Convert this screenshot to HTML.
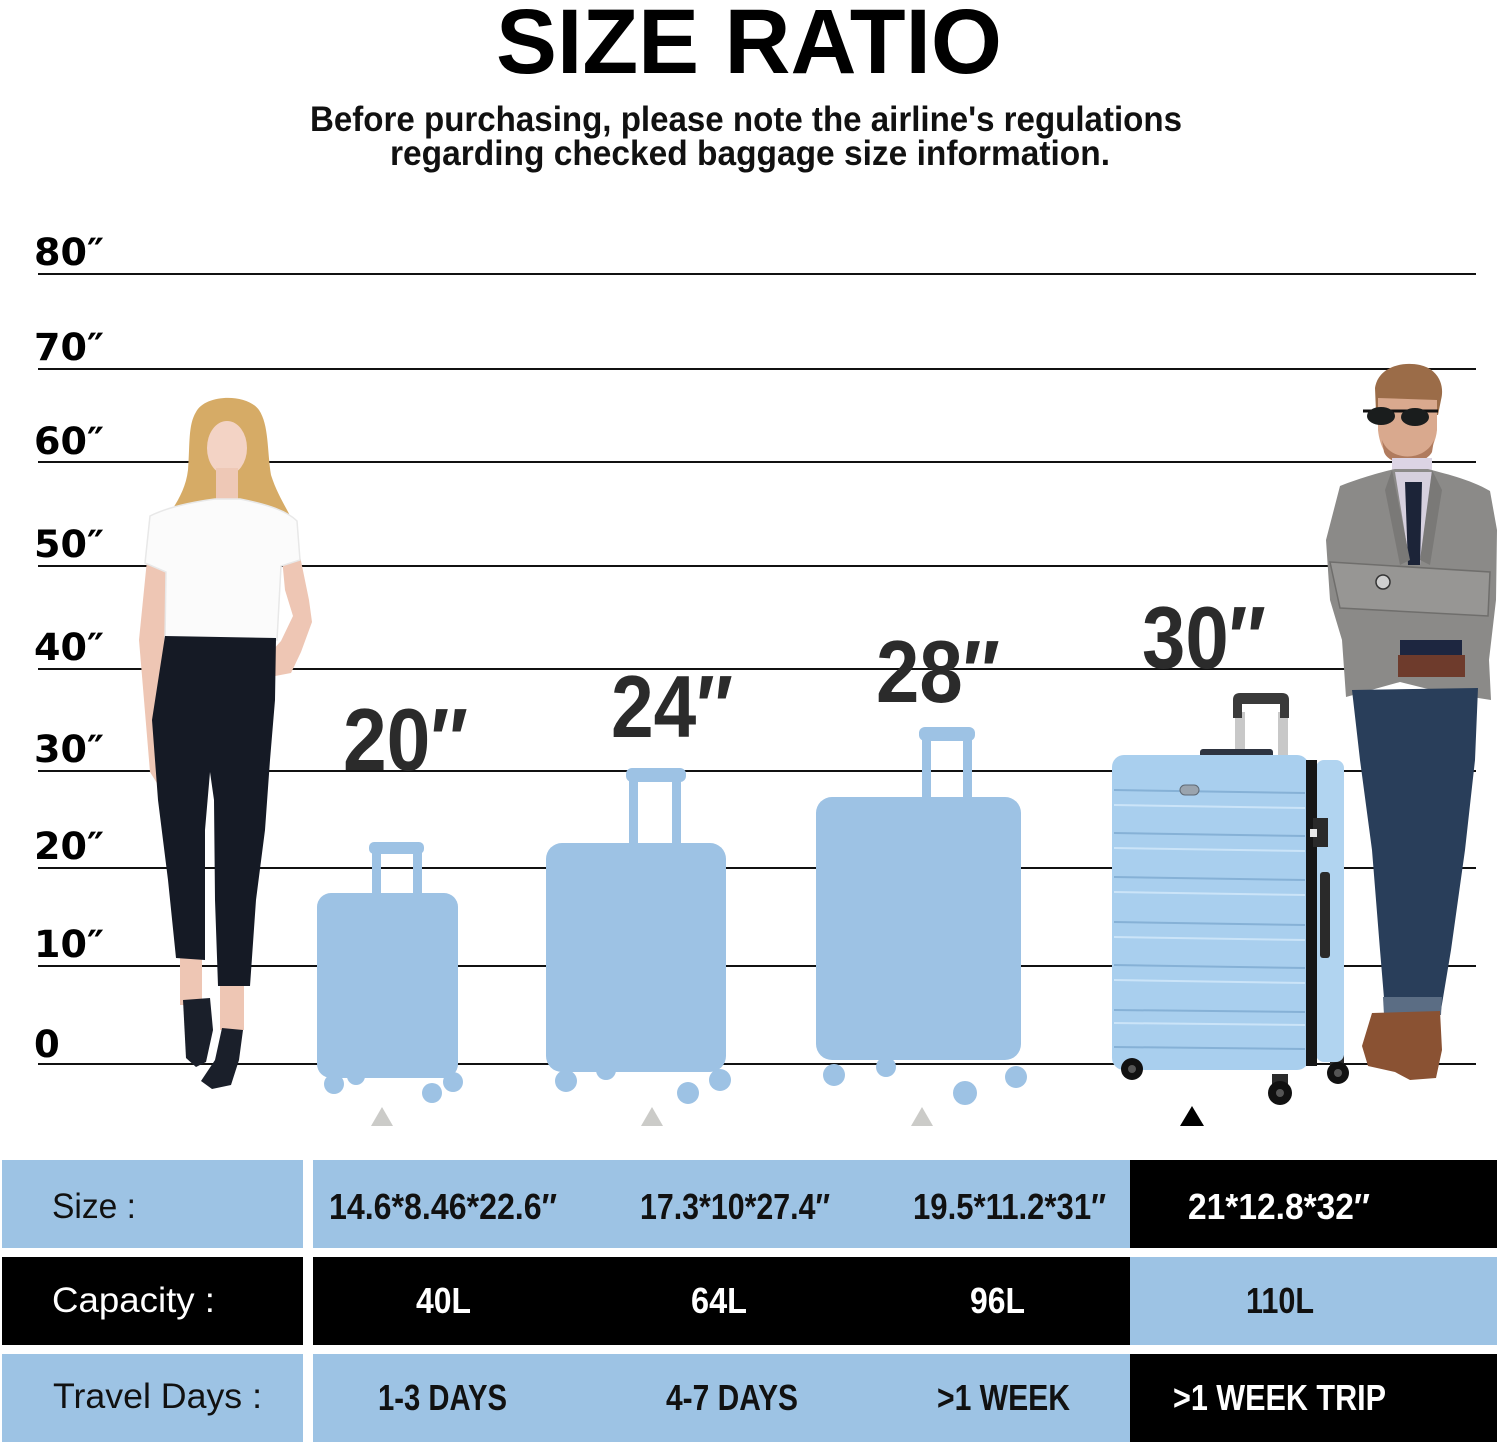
<!DOCTYPE html>
<html><head><meta charset="utf-8"><style>
html,body{margin:0;padding:0;background:#fff;}
svg{display:block;}
</style></head><body>
<svg width="1500" height="1444" viewBox="0 0 1500 1444" xmlns="http://www.w3.org/2000/svg" font-family="Liberation Sans, Arial, sans-serif">
<rect width="1500" height="1444" fill="#ffffff"/>

<!-- Title -->
<text x="496" y="73" font-size="92" font-weight="bold" fill="#000" textLength="506" lengthAdjust="spacingAndGlyphs">SIZE RATIO</text>
<text x="310" y="131" font-size="35" font-weight="bold" fill="#111" textLength="872" lengthAdjust="spacingAndGlyphs">Before purchasing, please note the airline's regulations</text>
<text x="390" y="165" font-size="35" font-weight="bold" fill="#111" textLength="720" lengthAdjust="spacingAndGlyphs">regarding checked baggage size information.</text>

<!-- Grid lines -->
<g stroke="#111" stroke-width="2">
<line x1="38" y1="274" x2="1476" y2="274"/>
<line x1="38" y1="369" x2="1476" y2="369"/>
<line x1="38" y1="462" x2="1476" y2="462"/>
<line x1="38" y1="566" x2="1476" y2="566"/>
<line x1="38" y1="669" x2="1476" y2="669"/>
<line x1="38" y1="771" x2="1476" y2="771"/>
<line x1="38" y1="868" x2="1476" y2="868"/>
<line x1="38" y1="966" x2="1476" y2="966"/>
<line x1="38" y1="1064" x2="1476" y2="1064"/>
</g>

<!-- Axis labels -->
<g font-family="DejaVu Sans, Liberation Sans, sans-serif" font-weight="bold" font-size="37" fill="#000">
<text x="34" y="265" textLength="70" lengthAdjust="spacingAndGlyphs">80″</text>
<text x="34" y="360" textLength="70" lengthAdjust="spacingAndGlyphs">70″</text>
<text x="34" y="454" textLength="70" lengthAdjust="spacingAndGlyphs">60″</text>
<text x="34" y="557" textLength="70" lengthAdjust="spacingAndGlyphs">50″</text>
<text x="34" y="660" textLength="70" lengthAdjust="spacingAndGlyphs">40″</text>
<text x="34" y="762" textLength="70" lengthAdjust="spacingAndGlyphs">30″</text>
<text x="34" y="859" textLength="70" lengthAdjust="spacingAndGlyphs">20″</text>
<text x="34" y="957" textLength="70" lengthAdjust="spacingAndGlyphs">10″</text>
<text x="34" y="1057">0</text>
</g>

<!-- Woman -->
<g>
<path d="M196,412 C205,394 247,393 259,410 C269,425 267,450 271,475 C279,500 292,515 296,530 L286,548 L268,522 L262,560 L190,560 L186,522 L168,548 L158,532 C171,510 185,495 188,470 C190,445 188,425 196,412 Z" fill="#d6ab66"/>
<ellipse cx="227" cy="448" rx="20" ry="27" fill="#f3d3c5"/>
<rect x="216" y="468" width="22" height="36" fill="#eec8b6"/>
<path d="M147,560 L167,566 L171,640 L169,700 L176,760 L182,790 L165,796 L150,772 L144,700 L139,640 Z" fill="#eec6b4"/>
<path d="M282,558 L300,556 L309,600 L312,622 L301,652 L291,673 L270,677 L262,662 L281,641 L293,616 L285,590 Z" fill="#eec6b4"/>
<path d="M150,516 C170,506 200,501 215,499 L240,499 C260,503 285,509 297,521 L300,560 L281,566 L277,640 L165,640 L166,572 L145,563 Z" fill="#fbfbfb" stroke="#e8e8e8" stroke-width="1.5"/>
<rect x="180" y="955" width="22" height="50" fill="#eec6b4"/>
<rect x="220" y="980" width="24" height="50" fill="#eec6b4"/>
<path d="M165,636 L276,638 L275,700 L270,760 L265,830 L256,900 L250,986 L218,986 L215,900 L214,800 L210,772 L205,830 L205,900 L205,960 L176,958 L168,880 L158,800 L152,720 Z" fill="#151a25"/>
<path d="M183,1000 L210,998 L213,1030 L206,1062 L196,1067 L186,1058 Z" fill="#1a1f2a"/>
<path d="M222,1028 L243,1030 L239,1060 L231,1085 L212,1089 L201,1081 L215,1060 Z" fill="#1a1f2a"/>
</g>

<!-- Man -->
<g>
<path d="M1375,388 C1378,368 1400,361 1420,365 C1438,369 1445,385 1441,400 L1438,415 L1376,412 Z" fill="#9b6c48"/>
<path d="M1378,398 L1437,400 L1437,430 C1435,450 1421,466 1406,466 C1390,464 1380,450 1378,430 Z" fill="#d9a98e"/>
<path d="M1382,440 C1390,462 1425,462 1434,440 L1432,452 C1425,466 1390,468 1384,452 Z" fill="#b07b5e"/>
<line x1="1363" y1="411" x2="1438" y2="411" stroke="#111" stroke-width="3"/>
<ellipse cx="1381" cy="416" rx="14" ry="9" fill="#1a1d1d"/>
<ellipse cx="1415" cy="417" rx="14" ry="9" fill="#1a1d1d"/>
<rect x="1392" y="458" width="40" height="40" fill="#dcd4e4"/>
<path d="M1340,486 C1360,478 1385,471 1395,469 L1428,469 C1442,473 1470,479 1490,491 L1497,530 L1496,600 L1489,660 L1491,700 L1440,692 L1400,682 L1346,697 L1342,640 L1330,600 L1326,540 Z" fill="#8b8a88"/>
<path d="M1395,472 L1432,472 L1420,565 L1410,565 Z" fill="#d6d0de"/>
<path d="M1405,482 L1422,482 L1420,565 L1408,565 Z" fill="#1c2438"/>
<path d="M1392,470 L1410,560 L1400,565 L1385,490 Z" fill="#7a7977"/>
<path d="M1432,470 L1420,560 L1430,565 L1442,490 Z" fill="#7a7977"/>
<path d="M1330,562 L1490,572 L1488,616 L1340,608 Z" fill="#979694" stroke="#6f6e6c" stroke-width="1.5"/>
<circle cx="1383" cy="582" r="7" fill="#cfcfcf" stroke="#333" stroke-width="1.5"/>
<rect x="1400" y="640" width="62" height="16" fill="#1d2640"/>
<rect x="1398" y="655" width="67" height="22" fill="#6e3b2c"/>
<path d="M1352,690 L1478,688 L1475,760 L1465,850 L1451,950 L1441,1010 L1385,1010 L1380,950 L1372,850 L1360,760 Z" fill="#293e5a"/>
<path d="M1383,997 L1442,997 L1441,1015 L1384,1015 Z" fill="#5b6d84"/>
<path d="M1372,1013 L1440,1011 L1442,1050 L1436,1078 L1410,1080 L1395,1072 L1368,1066 L1362,1046 Z" fill="#8a5233"/>
</g>

<!-- Silhouette suitcases -->
<g fill="#9dc2e4">
<!-- 20 -->
<rect x="317" y="893" width="141" height="185" rx="14"/>
<rect x="372" y="846" width="9" height="52"/>
<rect x="413" y="846" width="9" height="52"/>
<rect x="369" y="842" width="55" height="12" rx="5"/>
<circle cx="334" cy="1084" r="10"/>
<circle cx="356" cy="1076" r="9"/>
<circle cx="432" cy="1093" r="10"/>
<circle cx="453" cy="1082" r="10"/>
<!-- 24 -->
<rect x="546" y="843" width="180" height="229" rx="16"/>
<rect x="629" y="772" width="9" height="74"/>
<rect x="672" y="772" width="9" height="74"/>
<rect x="626" y="768" width="60" height="14" rx="6"/>
<circle cx="566" cy="1081" r="11"/>
<circle cx="606" cy="1070" r="10"/>
<circle cx="688" cy="1093" r="11"/>
<circle cx="720" cy="1080" r="11"/>
<!-- 28 -->
<rect x="816" y="797" width="205" height="263" rx="16"/>
<rect x="922" y="731" width="9" height="70"/>
<rect x="963" y="731" width="9" height="70"/>
<rect x="919" y="727" width="56" height="14" rx="6"/>
<circle cx="834" cy="1075" r="11"/>
<circle cx="886" cy="1067" r="10"/>
<circle cx="965" cy="1093" r="12"/>
<circle cx="1016" cy="1077" r="11"/>
</g>

<!-- Real suitcase 30 -->
<g>
<rect x="1235" y="712" width="10" height="46" fill="#c8c8c8"/>
<rect x="1278" y="712" width="10" height="46" fill="#c8c8c8"/>
<path d="M1233,718 L1233,700 Q1233,693 1240,693 L1282,693 Q1289,693 1289,700 L1289,718 L1280,718 L1280,704 L1242,704 L1242,718 Z" fill="#3a3a3a"/>
<rect x="1200" y="749" width="73" height="9" rx="3" fill="#2e3440"/>
<rect x="1123" y="1058" width="16" height="14" fill="#2b2b2b"/>
<rect x="1272" y="1074" width="16" height="16" fill="#2b2b2b"/>
<rect x="1330" y="1055" width="14" height="14" fill="#2b2b2b"/>
<rect x="1316" y="760" width="28" height="302" rx="8" fill="#b1d4f0"/>
<rect x="1112" y="755" width="197" height="315" rx="12" fill="#a9cfee"/>
<rect x="1306" y="760" width="11" height="306" fill="#161616"/>
<g stroke-width="2">
<line x1="1114" y1="790" x2="1305" y2="793" stroke="#86b1d6"/><line x1="1114" y1="805" x2="1305" y2="808" stroke="#cbe4f8"/>
<line x1="1114" y1="833" x2="1305" y2="836" stroke="#86b1d6"/><line x1="1114" y1="848" x2="1305" y2="851" stroke="#cbe4f8"/>
<line x1="1114" y1="877" x2="1305" y2="880" stroke="#86b1d6"/><line x1="1114" y1="892" x2="1305" y2="895" stroke="#cbe4f8"/>
<line x1="1114" y1="922" x2="1305" y2="925" stroke="#86b1d6"/><line x1="1114" y1="937" x2="1305" y2="940" stroke="#cbe4f8"/>
<line x1="1114" y1="965" x2="1305" y2="968" stroke="#86b1d6"/><line x1="1114" y1="980" x2="1305" y2="983" stroke="#cbe4f8"/>
<line x1="1114" y1="1010" x2="1305" y2="1012" stroke="#86b1d6"/><line x1="1114" y1="1023" x2="1305" y2="1025" stroke="#cbe4f8"/>
<line x1="1114" y1="1047" x2="1305" y2="1049" stroke="#86b1d6"/>
</g>
<rect x="1180" y="785" width="19" height="10" rx="5" fill="#9aa4ae" stroke="#5f6a75" stroke-width="1"/>
<rect x="1313" y="818" width="15" height="29" fill="#2a2a2a"/>
<rect x="1310" y="829" width="7" height="8" fill="#e8e8e8"/>
<rect x="1320" y="872" width="10" height="86" rx="3" fill="#2a2a2a"/>
<circle cx="1132" cy="1069" r="11" fill="#111"/><circle cx="1132" cy="1069" r="4" fill="#555"/>
<circle cx="1280" cy="1093" r="12" fill="#111"/><circle cx="1280" cy="1093" r="4" fill="#555"/>
<circle cx="1338" cy="1073" r="11" fill="#111"/><circle cx="1338" cy="1073" r="4" fill="#555"/>
</g>

<!-- Size numbers -->
<g font-weight="bold" font-size="88" fill="#2b2b2b">
<text x="343" y="770" textLength="125" lengthAdjust="spacingAndGlyphs">20″</text>
<text x="611" y="737" textLength="122" lengthAdjust="spacingAndGlyphs">24″</text>
<text x="876" y="702" textLength="124" lengthAdjust="spacingAndGlyphs">28″</text>
<text x="1142" y="668" textLength="124" lengthAdjust="spacingAndGlyphs">30″</text>
</g>

<!-- Triangles -->
<polygon points="371,1126 393,1126 382,1107" fill="#cbcbc8"/>
<polygon points="641,1126 663,1126 652,1107" fill="#cbcbc8"/>
<polygon points="911,1126 933,1126 922,1107" fill="#cbcbc8"/>
<polygon points="1180,1126 1204,1126 1192,1106" fill="#000"/>

<!-- Table -->
<rect x="2" y="1160" width="301" height="88" fill="#9dc3e4"/>
<rect x="313" y="1160" width="817" height="88" fill="#9dc3e4"/>
<rect x="1130" y="1160" width="367" height="88" fill="#000"/>
<rect x="2" y="1257" width="301" height="88" fill="#000"/>
<rect x="313" y="1257" width="817" height="88" fill="#000"/>
<rect x="1130" y="1257" width="367" height="88" fill="#9dc3e4"/>
<rect x="2" y="1354" width="301" height="88" fill="#9dc3e4"/>
<rect x="313" y="1354" width="817" height="88" fill="#9dc3e4"/>
<rect x="1130" y="1354" width="367" height="88" fill="#000"/>

<g font-size="35">
<text x="52" y="1218" fill="#111" textLength="84" lengthAdjust="spacingAndGlyphs">Size :</text>
<text x="52" y="1312" fill="#fff" textLength="163" lengthAdjust="spacingAndGlyphs">Capacity :</text>
<text x="53" y="1408" fill="#111" textLength="209" lengthAdjust="spacingAndGlyphs">Travel Days :</text>
</g>
<g font-size="36" font-weight="bold">
<text x="329" y="1219" fill="#111" textLength="228" lengthAdjust="spacingAndGlyphs">14.6*8.46*22.6″</text>
<text x="640" y="1219" fill="#111" textLength="190" lengthAdjust="spacingAndGlyphs">17.3*10*27.4″</text>
<text x="913" y="1219" fill="#111" textLength="193" lengthAdjust="spacingAndGlyphs">19.5*11.2*31″</text>
<text x="1188" y="1219" fill="#fff" textLength="182" lengthAdjust="spacingAndGlyphs">21*12.8*32″</text>
<text x="416" y="1313" fill="#fff" textLength="55" lengthAdjust="spacingAndGlyphs">40L</text>
<text x="691" y="1313" fill="#fff" textLength="56" lengthAdjust="spacingAndGlyphs">64L</text>
<text x="970" y="1313" fill="#fff" textLength="55" lengthAdjust="spacingAndGlyphs">96L</text>
<text x="1246" y="1313" fill="#111" textLength="68" lengthAdjust="spacingAndGlyphs">110L</text>
<text x="378" y="1410" fill="#111" textLength="129" lengthAdjust="spacingAndGlyphs">1-3 DAYS</text>
<text x="666" y="1410" fill="#111" textLength="132" lengthAdjust="spacingAndGlyphs">4-7 DAYS</text>
<text x="937" y="1410" fill="#111" textLength="133" lengthAdjust="spacingAndGlyphs">&gt;1 WEEK</text>
<text x="1173" y="1410" fill="#fff" textLength="213" lengthAdjust="spacingAndGlyphs">&gt;1 WEEK TRIP</text>
</g>
</svg>
</body></html>
